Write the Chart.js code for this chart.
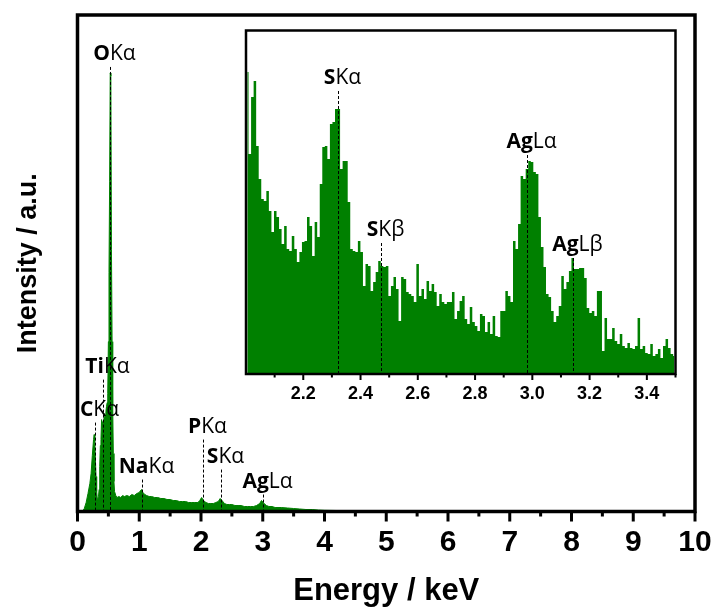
<!DOCTYPE html>
<html>
<head>
<meta charset="utf-8">
<script src="https://cdn.jsdelivr.net/npm/chart.js@4.4.1/dist/chart.umd.min.js"></script>
<style>
  html, body { margin: 0; padding: 0; background: #fff; }
  #wrap { position: relative; width: 715px; height: 610px; }
  #main { position: absolute; left: 0; top: 0; }
  #inset { position: absolute; left: 235px; top: 20px; }
</style>
</head>
<body>
<div id="wrap">
  <canvas id="main" width="715" height="610"></canvas>
  <canvas id="inset" width="455" height="390"></canvas>
</div>
<script>
// main spectrum, 0 - 5 keV (intensity in arbitrary units)
const mainEnergy = [0, 0.08, 0.11, 0.14, 0.17, 0.20, 0.22, 0.24, 0.26, 0.27, 0.28, 0.29, 0.30, 0.31, 0.32, 0.33,
  0.34, 0.35, 0.36, 0.37, 0.38, 0.39, 0.40, 0.41, 0.42, 0.43, 0.44, 0.45, 0.46, 0.47, 0.48, 0.49, 0.50, 0.51,
  0.52, 0.53, 0.54, 0.55, 0.56, 0.57, 0.58, 0.59, 0.60, 0.62, 0.64, 0.67, 0.70, 0.73, 0.76, 0.80, 0.84, 0.88,
  0.92, 0.96, 1.00, 1.02, 1.04, 1.06, 1.09, 1.12, 1.16, 1.20, 1.25, 1.30, 1.35, 1.40, 1.45, 1.50, 1.55, 1.60,
  1.65, 1.70, 1.75, 1.80, 1.85, 1.90, 1.95, 1.98, 2.01, 2.04, 2.08, 2.12, 2.16, 2.20, 2.24, 2.28, 2.31, 2.34,
  2.38, 2.42, 2.46, 2.50, 2.55, 2.60, 2.65, 2.70, 2.75, 2.80, 2.85, 2.90, 2.95, 2.98, 3.02, 3.06, 3.10, 3.15,
  3.20, 3.30, 3.40, 3.50, 3.60, 3.70, 3.80, 3.90, 4.00, 4.20, 4.40, 4.60, 4.80, 4.90];
const mainCounts = [0, 0, 3, 9, 18, 28, 38, 56, 72, 77, 70, 52, 35, 20, 13, 12,
  15, 22, 45, 66, 72, 92, 88, 90, 86, 94, 98, 96, 100, 105, 109, 118, 170, 239,
  330, 439, 436, 262, 170, 105, 58, 30, 20, 16, 14, 15, 14, 16, 15, 16, 15, 17,
  16, 18, 19, 21, 22, 19, 17, 16, 15, 15, 14, 14, 13, 13, 12, 12, 11, 11,
  10, 10, 10, 9, 9, 9, 9, 11, 14, 11, 9, 8, 8, 8, 9, 10, 13, 11,
  8, 7, 7, 7, 6, 6, 6, 5, 5, 5, 5, 6, 8, 11, 8, 6, 5, 5,
  4, 4, 3.5, 3, 2.5, 2, 2, 1.5, 1.2, 1, 0.8, 0.6, 0.4, 0];

// inset spectrum, 2.0 - 3.5 keV, equal bins
const insetStart = 2.0;
const insetBin = 0.00888;
const insetCounts = [302, 220, 277, 293, 228, 195, 175, 173, 183, 163, 142, 163, 157, 145, 130, 148, 125, 123, 138, 125,
  112, 122, 132, 133, 157, 148, 118, 152, 137, 190, 227, 228, 215, 250, 252, 265, 265, 205, 213, 213, 172, 125,
  123, 122, 133, 122, 88, 110, 108, 83, 92, 102, 113, 108, 107, 108, 78, 88, 97, 85, 53, 97, 95, 82, 80, 78,
  72, 110, 78, 85, 75, 93, 83, 90, 82, 68, 80, 72, 70, 72, 72, 82, 55, 63, 73,
  78, 55, 50, 67, 52, 48, 43, 60, 58, 42, 52, 40, 58, 38, 37, 63, 63, 83, 78, 72, 133, 125, 150, 198, 195,
  205, 213, 212, 202, 200, 157, 127, 107, 80, 77, 63, 52, 58, 68, 98, 85, 92, 103,
  116, 105, 105, 106, 106, 96, 66, 61, 63, 58, 83, 83, 23, 56, 35, 35, 46, 33, 30, 40, 28, 26, 31, 26, 25,
  28, 56, 25, 28, 21, 20, 30, 18, 20, 25, 16, 28, 35, 26, 20, 18];

const mainTicks = [0, 1, 2, 3, 4, 5, 6, 7, 8, 9, 10];
const mainMinor = [0.5, 1.5, 2.5, 3.5, 4.5, 5.5, 6.5, 7.5, 8.5, 9.5];
const insetTicks = [2.2, 2.4, 2.6, 2.8, 3.0, 3.2, 3.4];
const insetMinor = [2.1, 2.3, 2.5, 2.7, 2.9, 3.1, 3.3, 3.5];

// peak markers: element, line, energy, top of dashed line (intensity units)
const mainPeakEl = ['C', 'Ti', 'O', 'Na', 'P', 'S', 'Ag'];
const mainPeakLine = ['Kα', 'Kα', 'Kα', 'Kα', 'Kα', 'Kα', 'Lα'];
const mainPeakE = [0.28, 0.415, 0.525, 1.04, 2.03, 2.32, 3.0];
const mainPeakTop = [89, 132, 445, 32, 72, 42, 17];

const insetPeakEl = ['S', 'S', 'Ag', 'Ag'];
const insetPeakLine = ['Kα', 'Kβ', 'Lα', 'Lβ'];
const insetPeakE = [2.323, 2.472, 2.983, 3.142];
const insetPeakTop = [283, 131, 219, 116];

const GREEN = '#008000';
const AXIS_FONT = "'Liberation Sans', Arial, sans-serif";
const LABEL_FONT = "'Open Sans', 'Noto Sans', sans-serif";

const marks = {
  id: 'marks',
  afterDraw(chart, args, o) {
    const { ctx, chartArea: a, scales: { x, y } } = chart;
    ctx.save();
    ctx.strokeStyle = '#000';
    ctx.lineWidth = o.frame;
    ctx.strokeRect(a.left, a.top, a.right - a.left, a.bottom - a.top);

    ctx.lineWidth = o.tickW;
    ctx.beginPath();
    o.major.forEach(v => {
      const px = x.getPixelForValue(v);
      ctx.moveTo(px, a.bottom); ctx.lineTo(px, a.bottom + o.majorLen);
    });
    o.minor.forEach(v => {
      const px = x.getPixelForValue(v);
      ctx.moveTo(px, a.bottom); ctx.lineTo(px, a.bottom + o.minorLen);
    });
    ctx.stroke();

    o.el.forEach((el, i) => {
      const px = Math.round(x.getPixelForValue(o.e[i])) + 0.5;
      const top = y.getPixelForValue(o.top[i]);
      ctx.lineWidth = 1;
      ctx.setLineDash([3, 2]);
      ctx.beginPath();
      ctx.moveTo(px, top); ctx.lineTo(px, a.bottom);
      ctx.stroke();
      ctx.setLineDash([]);

      const bold = `bold 21px ${LABEL_FONT}`, reg = `21px ${LABEL_FONT}`;
      ctx.font = bold; const w1 = ctx.measureText(el).width;
      ctx.font = reg; const w2 = ctx.measureText(o.line[i]).width;
      const start = px + 4 - (w1 + w2) / 2;
      ctx.fillStyle = '#000';
      ctx.textBaseline = 'alphabetic';
      ctx.font = bold; ctx.fillText(el, start, top - 7);
      ctx.font = reg; ctx.fillText(o.line[i], start + w1, top - 7);
    });
    ctx.restore();
  }
};

// keep the frame where it is, even if the last tick label overhangs
function noOverhang(s) {
  s.paddingLeft = 0;
  s.paddingRight = 0;
}

new Chart(document.getElementById('main'), {
  type: 'line',
  data: {
    datasets: [{
      data: mainEnergy.map((e, i) => ({ x: e, y: mainCounts[i] })),
      borderColor: GREEN, backgroundColor: GREEN, borderWidth: 1,
      fill: 'origin', pointRadius: 0, tension: 0
    }]
  },
  options: {
    responsive: false, animation: false,
    layout: { padding: { top: 15, right: 20, left: 0, bottom: 0 } },
    plugins: {
      legend: { display: false }, tooltip: { enabled: false },
      marks: { frame: 3.5, tickW: 3, majorLen: 10, minorLen: 5, major: mainTicks, minor: mainMinor,
        el: mainPeakEl, line: mainPeakLine, e: mainPeakE, top: mainPeakTop }
    },
    scales: {
      x: {
        type: 'linear', min: 0, max: 10,
        afterBuildTicks: s => { s.ticks = mainTicks.map(v => ({ value: v })); },
        afterFit: s => { s.height = 98.5; noOverhang(s); },
        grid: { display: false, drawTicks: false },
        border: { display: false },
        ticks: { autoSkip: false, maxRotation: 0, padding: 13, color: '#000',
          font: { family: AXIS_FONT, size: 30, weight: 'bold' }, callback: v => String(v) },
        title: { display: true, text: 'Energy / keV', color: '#000', padding: { top: 0, bottom: 0 },
          font: { family: AXIS_FONT, size: 31, weight: 'bold' } }
      },
      y: {
        min: 0, max: 497,
        afterFit: s => { s.width = 77.5; },
        grid: { display: false, drawTicks: false },
        border: { display: false },
        ticks: { display: false },
        title: { display: true, text: 'Intensity / a.u.', color: '#000', padding: { top: 12, bottom: 0 },
          font: { family: AXIS_FONT, size: 27, weight: 'bold' } }
      }
    }
  },
  plugins: [marks]
});

new Chart(document.getElementById('inset'), {
  type: 'line',
  data: {
    datasets: [{
      data: insetCounts.map((c, i) => ({ x: insetStart + (i + 0.5) * insetBin, y: c })),
      borderColor: GREEN, backgroundColor: GREEN, borderWidth: 0,
      fill: 'origin', pointRadius: 0, stepped: 'middle'
    }]
  },
  options: {
    responsive: false, animation: false,
    layout: { padding: { top: 10.5, right: 14.5, left: 11, bottom: 0 } },
    plugins: {
      legend: { display: false }, tooltip: { enabled: false },
      marks: { frame: 2.5, tickW: 2, majorLen: 6, minorLen: 3.5, major: insetTicks, minor: insetMinor,
        el: insetPeakEl, line: insetPeakLine, e: insetPeakE, top: insetPeakTop }
    },
    scales: {
      x: {
        type: 'linear', min: 2.0, max: 3.5,
        afterBuildTicks: s => { s.ticks = insetTicks.map(v => ({ value: v })); },
        afterFit: s => { s.height = 36; noOverhang(s); },
        grid: { display: false, drawTicks: false },
        border: { display: false },
        ticks: { autoSkip: false, maxRotation: 0, padding: 9, color: '#000',
          font: { family: AXIS_FONT, size: 18, weight: 'bold' }, callback: v => v.toFixed(1) }
      },
      y: { display: false, min: 0, max: 343.5 }
    }
  },
  plugins: [marks]
});
</script>
</body>
</html>
